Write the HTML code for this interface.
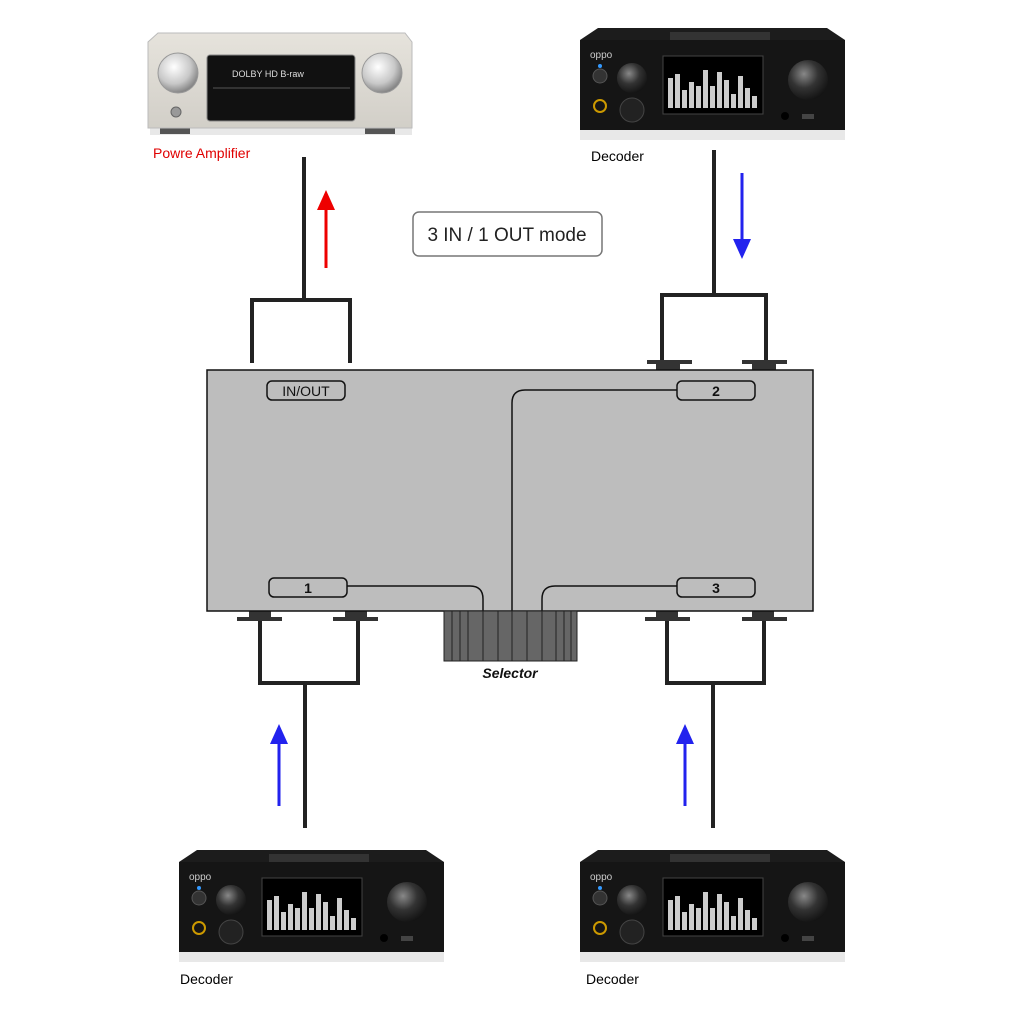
<!DOCTYPE html>
<html><head><meta charset="utf-8"><style>
html,body{margin:0;padding:0;background:#fff;}
svg{display:block;}
text{font-family:"Liberation Sans",sans-serif;}
</style></head><body>
<svg width="1024" height="1024" viewBox="0 0 1024 1024" xmlns="http://www.w3.org/2000/svg">
<defs>
<radialGradient id="knobS" cx="0.4" cy="0.35" r="0.7"><stop offset="0" stop-color="#fff"/><stop offset="0.6" stop-color="#c8c8c8"/><stop offset="1" stop-color="#777"/></radialGradient>
<radialGradient id="knobD" cx="0.4" cy="0.35" r="0.7"><stop offset="0" stop-color="#888"/><stop offset="0.5" stop-color="#333"/><stop offset="1" stop-color="#111"/></radialGradient>
<linearGradient id="sil" x1="0" y1="0" x2="0" y2="1"><stop offset="0" stop-color="#e6e3dc"/><stop offset="1" stop-color="#d2cfc8"/></linearGradient>
<g id="dec">
  <rect x="0" y="100" width="265" height="12" fill="#e8e8e8"/>
  <path d="M18 0 H247 L265 12 V102 H0 V12 Z" fill="#1c1c1c"/>
  <rect x="90" y="4" width="100" height="8" fill="#333"/>
  <rect x="0" y="12" width="265" height="90" fill="#151515"/>
  <text x="10" y="30" font-size="10" fill="#ccc">oppo</text>
  <circle cx="20" cy="48" r="7" fill="#333" stroke="#555"/>
  <circle cx="20" cy="38" r="2" fill="#39f"/>
  <circle cx="20" cy="78" r="6" fill="none" stroke="#c90" stroke-width="2"/>
  <circle cx="52" cy="50" r="15" fill="url(#knobD)"/>
  <circle cx="52" cy="82" r="12" fill="#222" stroke="#444"/>
  <rect x="83" y="28" width="100" height="58" fill="#000" stroke="#444"/>
  <g fill="#ccc">
    <rect x="88" y="50" width="5" height="30"/><rect x="95" y="46" width="5" height="34"/><rect x="102" y="62" width="5" height="18"/><rect x="109" y="54" width="5" height="26"/><rect x="116" y="58" width="5" height="22"/><rect x="123" y="42" width="5" height="38"/><rect x="130" y="58" width="5" height="22"/><rect x="137" y="44" width="5" height="36"/><rect x="144" y="52" width="5" height="28"/><rect x="151" y="66" width="5" height="14"/><rect x="158" y="48" width="5" height="32"/><rect x="165" y="60" width="5" height="20"/><rect x="172" y="68" width="5" height="12"/>
  </g>
  <circle cx="228" cy="52" r="20" fill="url(#knobD)"/>
  <circle cx="205" cy="88" r="4" fill="#000"/>
  <rect x="222" y="86" width="12" height="5" fill="#444"/>
</g>
</defs>

<!-- Amplifier -->
<rect x="150" y="125" width="262" height="10" fill="#e8e8e8"/>
<rect x="160" y="128" width="30" height="6" fill="#555"/><rect x="365" y="128" width="30" height="6" fill="#555"/>
<path d="M158 33 H405 L412 42 V128 H148 V42 Z" fill="url(#sil)" stroke="#bbb"/>
<rect x="207" y="55" width="148" height="66" rx="3" fill="#111" stroke="#888"/>
<text x="232" y="77" font-size="9" fill="#ddd" font-family="Liberation Mono">DOLBY HD B-raw</text>
<line x1="213" y1="88" x2="350" y2="88" stroke="#555"/>
<circle cx="178" cy="73" r="20" fill="url(#knobS)" stroke="#999"/>
<circle cx="382" cy="73" r="20" fill="url(#knobS)" stroke="#999"/>
<circle cx="176" cy="112" r="5" fill="#999" stroke="#666"/>
<text x="153" y="158" font-size="14" fill="#e00000">Powre Amplifier</text>

<use href="#dec" transform="translate(580,28)"/>
<text x="591" y="161" font-size="14" fill="#000">Decoder</text>
<use href="#dec" transform="translate(179,850)"/>
<text x="180" y="984" font-size="14" fill="#000">Decoder</text>
<use href="#dec" transform="translate(580,850)"/>
<text x="586" y="984" font-size="14" fill="#000">Decoder</text>

<!-- mode box -->
<rect x="413" y="212" width="189" height="44" rx="6" fill="#fff" stroke="#777" stroke-width="1.5"/>
<text x="507" y="241" font-size="19" fill="#222" text-anchor="middle">3 IN / 1 OUT mode</text>

<g stroke="#222" stroke-width="4" fill="none" stroke-linecap="butt">
<!-- top left -->
<path d="M304 157 V300 M252 363 V300 H350 V363"/>
<!-- top right -->
<path d="M714 150 V295 M662 360 V295 H766 V360"/>
<!-- bottom left -->
<path d="M260 620 V683 H358 V620 M305 683 V828"/>
<!-- bottom right -->
<path d="M667 620 V683 H764 V620 M713 683 V828"/>
</g>
<!-- connectors -->
<g fill="#333">
<rect x="647" y="360" width="45" height="4"/><rect x="656" y="362" width="24" height="8"/>
<rect x="742" y="360" width="45" height="4"/><rect x="752" y="362" width="24" height="8"/>
<rect x="237" y="617" width="45" height="4"/><rect x="249" y="611" width="22" height="8"/>
<rect x="333" y="617" width="45" height="4"/><rect x="345" y="611" width="22" height="8"/>
<rect x="645" y="617" width="45" height="4"/><rect x="656" y="611" width="22" height="8"/>
<rect x="742" y="617" width="45" height="4"/><rect x="752" y="611" width="22" height="8"/>
</g>

<!-- main box -->
<rect x="207" y="370" width="606" height="241" fill="#bdbdbd" stroke="#111" stroke-width="1.5"/>
<g fill="none" stroke="#111" stroke-width="1.5">
<rect x="267" y="381" width="78" height="19" rx="5"/>
<rect x="677" y="381" width="78" height="19" rx="5"/>
<rect x="269" y="578" width="78" height="19" rx="5"/>
<rect x="677" y="578" width="78" height="19" rx="5"/>
<path d="M677 390 H525 Q512 390 512 403 V611"/>
<path d="M347 586 H470 Q483 586 483 599 V611"/>
<path d="M677 586 H555 Q542 586 542 599 V611"/>
</g>
<text x="306" y="396" font-size="14" text-anchor="middle" fill="#111">IN/OUT</text>
<text x="716" y="396" font-size="14" font-weight="bold" text-anchor="middle" fill="#111">2</text>
<text x="308" y="593" font-size="14" font-weight="bold" text-anchor="middle" fill="#111">1</text>
<text x="716" y="593" font-size="14" font-weight="bold" text-anchor="middle" fill="#111">3</text>

<!-- selector -->
<rect x="444" y="611" width="133" height="50" fill="#666" stroke="#222"/>
<g stroke="#222" stroke-width="1">
<line x1="452" y1="611" x2="452" y2="661"/><line x1="460" y1="611" x2="460" y2="661"/><line x1="468" y1="611" x2="468" y2="661"/><line x1="483" y1="611" x2="483" y2="661"/><line x1="498" y1="611" x2="498" y2="661"/><line x1="512" y1="611" x2="512" y2="661"/><line x1="527" y1="611" x2="527" y2="661"/><line x1="542" y1="611" x2="542" y2="661"/><line x1="556" y1="611" x2="556" y2="661"/><line x1="564" y1="611" x2="564" y2="661"/><line x1="571" y1="611" x2="571" y2="661"/>
</g>
<text x="510" y="678" font-size="14" font-weight="bold" text-anchor="middle" fill="#111" font-style="italic">Selector</text>

<!-- arrows -->
<g stroke-width="3">
<line x1="326" y1="268" x2="326" y2="205" stroke="#e00"/>
<polygon points="326,190 317,210 335,210" fill="#e00"/>
<line x1="742" y1="173" x2="742" y2="245" stroke="#22e"/>
<polygon points="742,259 733,239 751,239" fill="#22e"/>
<line x1="279" y1="806" x2="279" y2="738" stroke="#22e"/>
<polygon points="279,724 270,744 288,744" fill="#22e"/>
<line x1="685" y1="806" x2="685" y2="738" stroke="#22e"/>
<polygon points="685,724 676,744 694,744" fill="#22e"/>
</g>
</svg>
</body></html>
